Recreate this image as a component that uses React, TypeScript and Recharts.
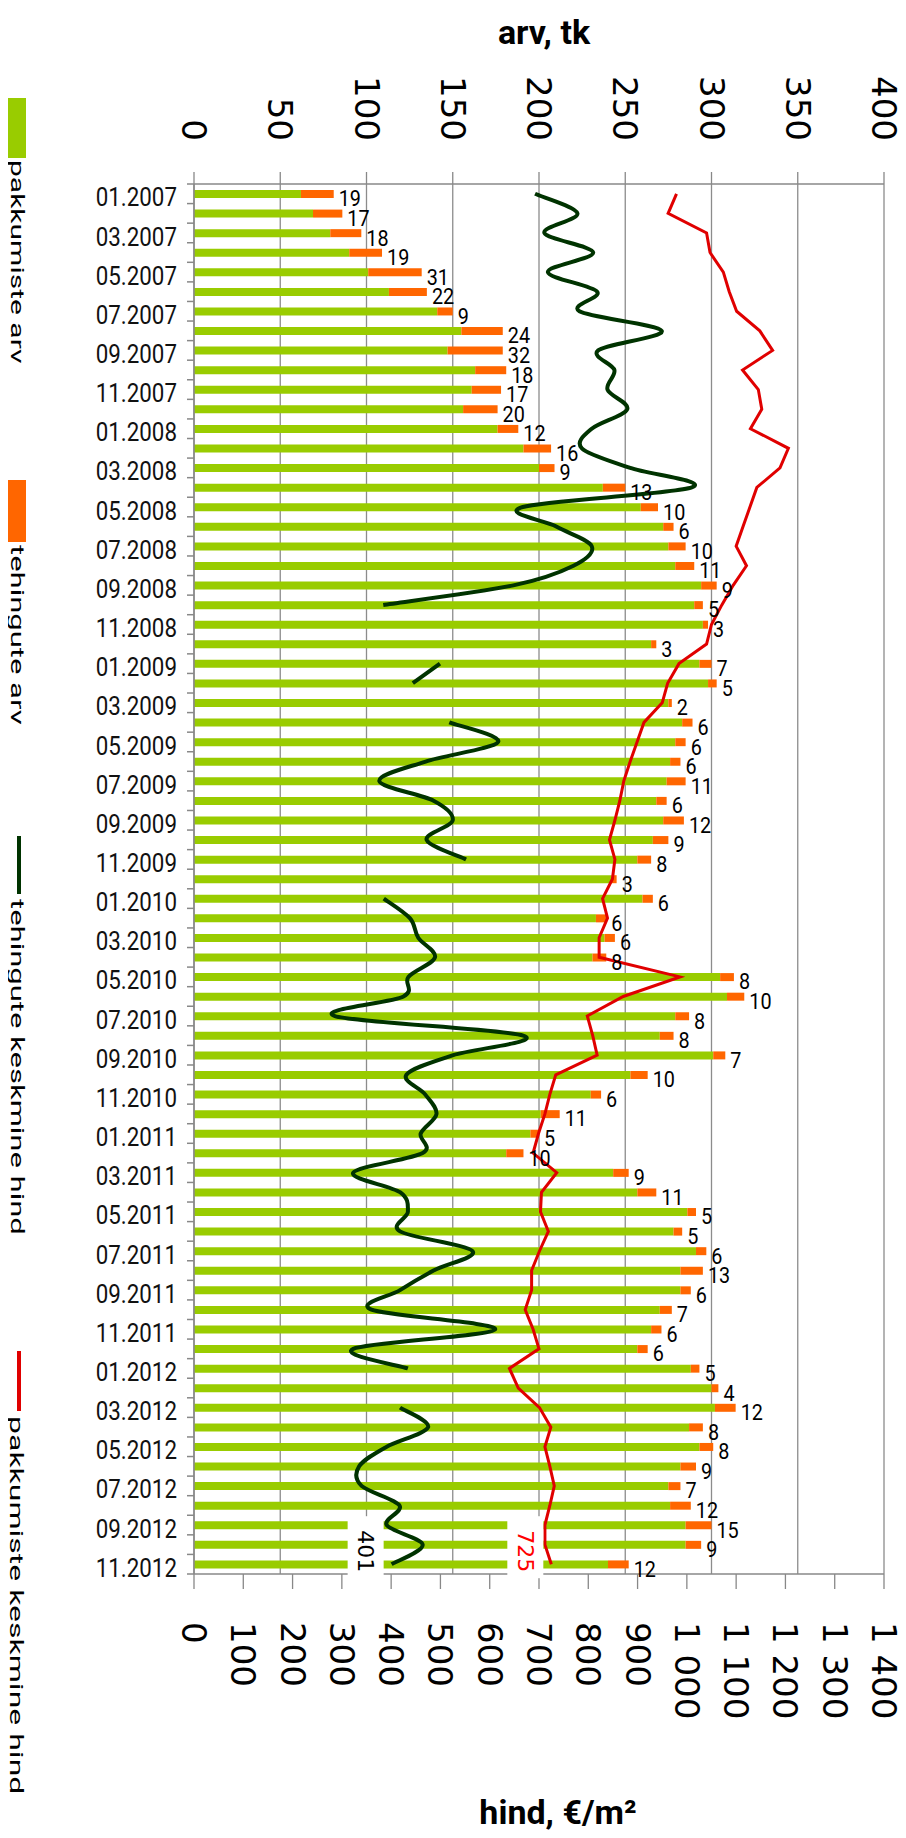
import React from 'react';
import { ComposedChart, Bar, Line, XAxis, YAxis, CartesianGrid, LabelList, Label } from 'recharts';

const months = [
  '01.2007','02.2007','03.2007','04.2007','05.2007','06.2007','07.2007','08.2007','09.2007','10.2007','11.2007','12.2007',
  '01.2008','02.2008','03.2008','04.2008','05.2008','06.2008','07.2008','08.2008','09.2008','10.2008','11.2008','12.2008',
  '01.2009','02.2009','03.2009','04.2009','05.2009','06.2009','07.2009','08.2009','09.2009','10.2009','11.2009','12.2009',
  '01.2010','02.2010','03.2010','04.2010','05.2010','06.2010','07.2010','08.2010','09.2010','10.2010','11.2010','12.2010',
  '01.2011','02.2011','03.2011','04.2011','05.2011','06.2011','07.2011','08.2011','09.2011','10.2011','11.2011','12.2011',
  '01.2012','02.2012','03.2012','04.2012','05.2012','06.2012','07.2012','08.2012','09.2012','10.2012','11.2012',
];

// pakkumiste arv
const offerCounts = [
  62, 69, 79, 90, 101, 113, 141, 155, 147, 163, 161, 156,
  176, 191, 200, 237, 259, 272, 275, 279, 294, 290, 295, 265,
  293, 298, 275, 283, 279, 276, 274, 268, 272, 266, 257, 242,
  260, 233, 238, 231, 305, 309, 279, 270, 301, 253, 230, 201,
  195, 181, 243, 257, 286, 278, 291, 282, 282, 270, 265, 257,
  288, 300, 302, 287, 293, 282, 275, 276, 285, 285, 240,
];

// tehingute arv
const dealCounts = [
  19, 17, 18, 19, 31, 22, 9, 24, 32, 18, 17, 20,
  12, 16, 9, 13, 10, 6, 10, 11, 9, 5, 3, 3,
  7, 5, 2, 6, 6, 6, 11, 6, 12, 9, 8, 3,
  6, 6, 6, 8, 8, 10, 8, 8, 7, 10, 6, 11,
  5, 10, 9, 11, 5, 5, 6, 13, 6, 7, 6, 6,
  5, 4, 12, 8, 8, 9, 7, 12, 15, 9, 12,
];

// tehingute keskmine hind
const dealPrices: (number | null)[] = [
  692, 778, 711, 810, 718, 818, 782, 949, 820, 853, 839, 879,
  807, 787, 885, 1010, 667, 735, 807, 770, 648, 384, null, null,
  499, 444, null, 518, 617, 470, 376, 486, 525, 472, 552, null,
  385, 438, 455, 489, 435, 425, 286, 668, 526, 431, 469, 492,
  460, 464, 323, 418, 434, 418, 565, 486, 418, 360, 611, 323,
  434, null, 418, 475, 391, 335, 340, 417, 391, 464, 401,
];

// pakkumiste keskmine hind
const offerPrices = [
  979, 962, 1040, 1047, 1074, 1086, 1101, 1148, 1174, 1113, 1145, 1152,
  1129, 1206, 1189, 1142, 1128, 1114, 1100, 1121, 1094, 1071, 1050, 1040,
  984, 961, 950, 913, 899, 885, 872, 864, 854, 843, 854, 849,
  829, 839, 822, 822, 986, 871, 798, 809, 818, 734, 722, 712,
  699, 688, 736, 705, 703, 719, 701, 685, 685, 672, 688, 700,
  640, 658, 701, 724, 712, 722, 731, 722, 712, 712, 725,
];

const countTicks = [0, 50, 100, 150, 200, 250, 300, 350, 400];
const priceTicks = [0, 100, 200, 300, 400, 500, 600, 700, 800, 900, 1000, 1100, 1200, 1300, 1400];

// split the transaction-price series into its unbroken runs (gaps = no data)
const dealSegments: number[][] = [];
{
  let cur: number[] = [];
  dealPrices.forEach((v, i) => {
    if (v == null) {
      if (cur.length) dealSegments.push(cur);
      cur = [];
    } else cur.push(i);
  });
  if (cur.length) dealSegments.push(cur);
}

const data = months.map((m, i) => {
  const row: any = {
    month: m,
    offers: offerCounts[i],
    deals: dealCounts[i],
    offerPrice: offerPrices[i],
  };
  dealSegments.forEach((seg, s) => {
    row[`dealSeg${s}`] = seg.includes(i) ? dealPrices[i] : null;
  });
  return row;
});

const W = 898;
const H = 1822;
const TOP_H = 176;
const BOT_H = 256;
const Y_W = 186;
const PLOT_BOTTOM = H - BOT_H;
const BAND = (H - TOP_H - BOT_H) / months.length;
const GRAY = '#888888';

const fmtPrice = (v: number) =>
  v >= 1000 ? `${Math.floor(v / 1000)} ${String(v % 1000).padStart(3, '0')}` : String(v);

// Excel-like smoothed line (Catmull-Rom via cubic Bezier)
const excelSmooth = (context: any) => {
  let pts: number[][] = [];
  return {
    areaStart() {},
    areaEnd() {},
    lineStart() {
      pts = [];
    },
    point(x: number, y: number) {
      pts.push([+x, +y]);
    },
    lineEnd() {
      const n = pts.length;
      if (n === 0) return;
      context.moveTo(pts[0][0], pts[0][1]);
      if (n === 1) {
        context.lineTo(pts[0][0], pts[0][1]);
        return;
      }
      for (let i = 0; i < n - 1; i++) {
        const p0 = pts[i - 1] || pts[i];
        const p1 = pts[i];
        const p2 = pts[i + 1];
        const p3 = pts[i + 2] || p2;
        const c1x = p1[0] + (p2[0] - p0[0]) / 6;
        const c1y = p1[1] + (p2[1] - p0[1]) / 6;
        const c2x = p2[0] - (p3[0] - p1[0]) / 6;
        const c2y = p2[1] - (p3[1] - p1[1]) / 6;
        context.bezierCurveTo(c1x, c1y, c2x, c2y, p2[0], p2[1]);
      }
    },
  };
};

const CategoryTick = (props: any) => {
  const { x, y, payload, index } = props;
  const axisX = x + 17;
  return (
    <g>
      <line x1={axisX - 7} x2={axisX} y1={y - BAND / 2} y2={y - BAND / 2} stroke={GRAY} strokeWidth={1.5} />
      {index === months.length - 1 && (
        <line x1={axisX - 7} x2={axisX} y1={y + BAND / 2} y2={y + BAND / 2} stroke={GRAY} strokeWidth={1.5} />
      )}
      {index % 2 === 0 && (
        <text
          transform={`translate(${x},${y + 4}) scale(0.86,1)`}
          x={0}
          y={0}
          textAnchor="end"
          dominantBaseline="central"
          fontFamily="Roboto"
          fontSize={26}
          fill="#111"
        >
          {payload.value}
        </text>
      )}
    </g>
  );
};

const TopTick = (props: any) => {
  const { x, y, payload } = props;
  return (
    <text
      x={x}
      y={y}
      transform={`rotate(90 ${x} ${y})`}
      textAnchor="end"
      dominantBaseline="central"
      fontFamily="DejaVu Sans"
      fontSize={34}
      fill="#000"
    >
      {payload.value}
    </text>
  );
};

const BottomTick = (props: any) => {
  const { x, y, payload } = props;
  return (
    <text
      x={x}
      y={y}
      transform={`rotate(90 ${x} ${y})`}
      textAnchor="start"
      dominantBaseline="central"
      fontFamily="DejaVu Sans"
      fontSize={34}
      fill="#000"
    >
      {fmtPrice(payload.value)}
    </text>
  );
};

const DealLabel = (props: any) => {
  const { x, y, width, height, value } = props;
  const tx = x + width + 5;
  const ty = y + height / 2 + 5;
  return (
    <text
      transform={`translate(${tx},${ty}) scale(0.9,1)`}
      x={0}
      y={0}
      dominantBaseline="central"
      fontFamily="Roboto"
      fontSize={22}
      fill="#000"
    >
      {value}
    </text>
  );
};

// value label of the last month, with a white box, left of the point
const endLabel = (color: string) => (props: any) => {
  const { value } = props;
  const x = props.x ?? props.viewBox?.x;
  const y = props.y ?? props.viewBox?.y;
  if (value == null || x == null || y == null) return null;
  if (y < PLOT_BOTTOM - BAND) return null;
  const cx = x - 26;
  const cy = y - 13;
  return (
    <g>
      <rect x={x - 44} y={y - 48} width={36} height={62} fill="#ffffff" />
      <text
        x={cx}
        y={cy}
        transform={`rotate(90 ${cx} ${cy})`}
        textAnchor="middle"
        dominantBaseline="central"
        fontFamily="DejaVu Sans"
        fontSize={22}
        fill={color}
      >
        {value}
      </text>
    </g>
  );
};

const TopTitle = (props: any) => {
  const vb = props.viewBox || { x: Y_W, y: 0, width: 690, height: TOP_H };
  return (
    <text
      x={vb.x + vb.width / 2 + 5}
      y={vb.y + 36}
      textAnchor="middle"
      fontFamily="Roboto"
      fontWeight={700}
      fontSize={34}
      fill="#000"
    >
      arv, tk
    </text>
  );
};

const BottomTitle = (props: any) => {
  const vb = props.viewBox || { x: Y_W, y: H - BOT_H, width: 690, height: BOT_H };
  return (
    <text
      x={vb.x + vb.width / 2 + 19}
      y={vb.y + 250}
      textAnchor="middle"
      fontFamily="Roboto"
      fontWeight={700}
      fontSize={34}
      fill="#000"
    >
      hind, €/m²
    </text>
  );
};

const legendItems = [
  { label: 'pakkumiste arv', kind: 'rect', color: '#99cc00', markTop: 90, markH: 60, textTop: 152, size: 30 },
  { label: 'tehingute arv', kind: 'rect', color: '#ff6600', markTop: 472, markH: 62, textTop: 537, size: 31 },
  { label: 'tehingute keskmine hind', kind: 'line', color: '#003300', markTop: 828, markH: 58, textTop: 891, size: 31 },
  { label: 'pakkumiste keskmine hind', kind: 'line', color: '#e00000', markTop: 1343, markH: 60, textTop: 1408, size: 32 },
];

export default function App() {
  return (
    <div style={{ position: 'relative', width: W, height: H }}>
      <ComposedChart
        width={W}
        height={H}
        data={data}
        layout="vertical"
        margin={{ top: 0, right: 22, bottom: 0, left: 0 }}
        style={{ overflow: 'visible' }}
      >
        <CartesianGrid xAxisId="count" vertical horizontal={false} stroke="#8c8c8c" strokeWidth={1.3} />
        <XAxis
          xAxisId="count"
          type="number"
          orientation="top"
          domain={[0, 400]}
          ticks={countTicks}
          height={TOP_H}
          tickSize={12}
          tickMargin={31}
          tick={<TopTick />}
          axisLine={{ stroke: GRAY, strokeWidth: 1.5 }}
          tickLine={{ stroke: GRAY, strokeWidth: 1.3 }}
          interval={0}
        >
          <Label content={<TopTitle />} />
        </XAxis>
        <XAxis
          xAxisId="price"
          type="number"
          orientation="bottom"
          domain={[0, 1400]}
          ticks={priceTicks}
          height={BOT_H}
          tickSize={15}
          tickMargin={33}
          tick={<BottomTick />}
          axisLine={{ stroke: GRAY, strokeWidth: 1.5 }}
          tickLine={{ stroke: GRAY, strokeWidth: 1.3 }}
          interval={0}
        >
          <Label content={<BottomTitle />} />
        </XAxis>
        <YAxis
          type="category"
          dataKey="month"
          width={Y_W}
          tickSize={0}
          tickMargin={17}
          interval={0}
          tick={<CategoryTick />}
          tickLine={false}
          axisLine={{ stroke: GRAY, strokeWidth: 1.5 }}
        />
        <Bar xAxisId="count" dataKey="offers" stackId="s" fill="#99cc00" barSize={8} isAnimationActive={false} />
        <Bar xAxisId="count" dataKey="deals" stackId="s" fill="#ff6600" barSize={8} isAnimationActive={false}>
          <LabelList dataKey="deals" content={<DealLabel />} />
        </Bar>
        {dealSegments.map((_, s) => (
          <Line
            key={`dealSeg${s}`}
            xAxisId="price"
            dataKey={`dealSeg${s}`}
            type={excelSmooth as any}
            stroke="#003300"
            strokeWidth={4}
            dot={false}
            activeDot={false}
            connectNulls={false}
            isAnimationActive={false}
          >
            <LabelList dataKey={`dealSeg${s}`} content={endLabel('#000000')} />
          </Line>
        ))}
        <Line
          xAxisId="price"
          dataKey="offerPrice"
          type="linear"
          stroke="#e00000"
          strokeWidth={3}
          dot={false}
          activeDot={false}
          isAnimationActive={false}
        >
          <LabelList dataKey="offerPrice" content={endLabel('#ff0000')} />
        </Line>
      </ComposedChart>
      {legendItems.map((it) => (
        <React.Fragment key={it.label}>
          {it.kind === 'rect' ? (
            <div
              style={{
                position: 'absolute',
                left: 0,
                top: it.markTop,
                width: 18,
                height: it.markH,
                background: it.color,
              }}
            />
          ) : (
            <div
              style={{
                position: 'absolute',
                left: 9,
                top: it.markTop,
                width: 4,
                height: it.markH,
                background: it.color,
              }}
            />
          )}
          <div
            style={{
              position: 'absolute',
              left: 0,
              top: it.textTop,
              writingMode: 'vertical-rl',
              fontFamily: 'Roboto',
              fontSize: it.size,
              lineHeight: '30px',
              whiteSpace: 'nowrap',
              color: '#000',
              transform: 'scaleX(0.6)',
              transformOrigin: 'left top',
            }}
          >
            {it.label}
          </div>
        </React.Fragment>
      ))}
    </div>
  );
}
